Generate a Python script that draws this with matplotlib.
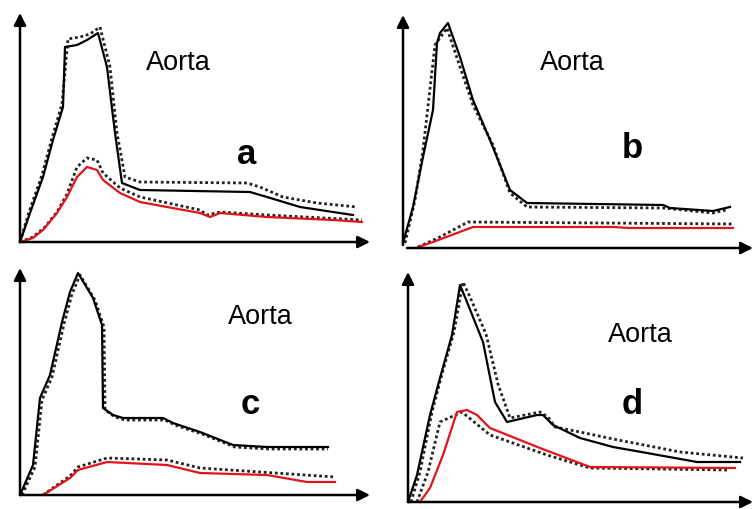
import matplotlib.pyplot as plt

plt.rcParams['font.family'] = ['Liberation Sans', 'DejaVu Sans']

W, H = 753, 509

# panel a  (x, height above the x axis, in px of the original figure)
a_solid_x = [0, 10, 23, 33, 43, 45, 57, 67, 78, 87, 95, 102, 120, 230, 247, 280, 313, 333]
a_solid_y = [0, 29, 65, 102, 135, 195, 197, 202, 209, 175, 109, 59, 52, 50, 45, 35, 30, 27]
a_dot_x = [0, 9, 22, 32, 42, 48, 60, 70, 80, 90, 97, 105, 120, 227, 240, 263, 297, 337]
a_dot_y = [0, 30, 67, 104, 138, 203, 205, 208, 215, 175, 109, 65, 60, 59, 55, 45, 39, 35]
a_red_x = [0, 13, 23, 37, 47, 57, 67, 77, 83, 100, 120, 147, 180, 190, 200, 247, 313, 342]
a_red_y = [0, 4, 12, 29, 45, 65, 75, 72, 62, 49, 40, 35, 29, 25, 29, 25, 22, 20]
a_rdot_x = [0, 13, 25, 37, 47, 57, 67, 77, 83, 100, 120, 180, 187, 200, 247, 342]
a_rdot_y = [0, 5, 15, 30, 48, 75, 84, 82, 69, 54, 45, 32, 27, 30, 27, 22]

# panel b
b_solid_x = [0, 10, 20, 30, 34, 37, 45, 57, 70, 87, 107, 124, 260, 267, 310, 327]
b_solid_y = [2, 38, 88, 135, 202, 212, 222, 188, 145, 105, 55, 42, 40, 37, 34, 38]
b_dot_x = [2, 12, 20, 32, 44, 57, 70, 90, 107, 124, 260, 310, 323]
b_dot_y = [2, 45, 95, 200, 217, 178, 140, 100, 52, 38, 37, 32, 35]
b_red_x = [15, 30, 54, 70, 210, 227, 330]
b_red_y = [-2, 3, 12, 18, 18, 17, 17]
b_rdot_x = [15, 35, 65, 330]
b_rdot_y = [-2, 7, 23, 21]

# panel c
c_solid_x = [0, 13, 20, 30, 42, 50, 58, 67, 73, 82, 83, 93, 103, 143, 153, 180, 213, 247, 308]
c_solid_y = [0, 30, 97, 120, 173, 203, 222, 207, 197, 170, 87, 80, 77, 77, 72, 63, 50, 48, 48]
c_dot_x = [2, 15, 22, 32, 44, 52, 60, 69, 75, 84, 85, 95, 105, 145, 155, 182, 215, 249, 308]
c_dot_y = [0, 28, 95, 118, 171, 201, 220, 205, 195, 168, 85, 78, 75, 75, 70, 61, 48, 46, 46]
c_red_x = [23, 50, 58, 87, 147, 180, 247, 287, 315]
c_red_y = [0, 17, 25, 33, 30, 22, 20, 13, 13]
c_rdot_x = [23, 50, 58, 87, 147, 180, 315]
c_rdot_y = [0, 19, 28, 37, 35, 27, 18]

# panel d
d_solid_x = [0, 9, 22, 32, 44, 52, 59, 75, 87, 99, 129, 135, 145, 172, 205, 239, 289, 332]
d_solid_y = [0, 27, 87, 124, 167, 217, 200, 160, 100, 80, 87, 87, 77, 64, 55, 49, 40, 40]
d_dot_x = [3, 12, 24, 34, 46, 55, 62, 78, 90, 102, 132, 140, 147, 172, 205, 272, 335]
d_dot_y = [0, 30, 90, 128, 170, 220, 205, 168, 118, 84, 90, 85, 75, 70, 63, 50, 44]
d_red_x = [12, 22, 35, 49, 59, 69, 82, 132, 182, 327]
d_red_y = [0, 14, 47, 90, 92, 87, 74, 54, 35, 34]
d_rdot_x = [9, 20, 32, 54, 82, 139, 182, 320]
d_rdot_y = [0, 30, 80, 90, 67, 47, 34, 32]

panels = [
    dict(origin=(20, 242), ytop=229, xend=350, xaxis_y=0, xaxis_x0=0,
         solid=(a_solid_x, a_solid_y), dot=(a_dot_x, a_dot_y),
         red=(a_red_x, a_red_y), rdot=(a_rdot_x, a_rdot_y),
         label='a', aorta=(158, 179), letter=(227, 88)),
    dict(origin=(403, 245), ytop=230, xend=350, xaxis_y=-3, xaxis_x0=4,
         solid=(b_solid_x, b_solid_y), dot=(b_dot_x, b_dot_y),
         red=(b_red_x, b_red_y), rdot=(b_rdot_x, b_rdot_y),
         label='b', aorta=(169, 182), letter=(229, 96)),
    dict(origin=(20, 495), ytop=227, xend=350, xaxis_y=0, xaxis_x0=0,
         solid=(c_solid_x, c_solid_y), dot=(c_dot_x, c_dot_y),
         red=(c_red_x, c_red_y), rdot=(c_rdot_x, c_rdot_y),
         label='c', aorta=(240, 178), letter=(230, 91)),
    dict(origin=(408, 502), ytop=230, xend=345, xaxis_y=0, xaxis_x0=0,
         solid=(d_solid_x, d_solid_y), dot=(d_dot_x, d_dot_y),
         red=(d_red_x, d_red_y), rdot=(d_rdot_x, d_rdot_y),
         label='d', aorta=(232, 167), letter=(224, 98)),
]

fig = plt.figure(figsize=(W / 100, H / 100), dpi=100)
fig.patch.set_facecolor('white')

PW, PH = 360, 245
for p in panels:
    ox, oy = p['origin']
    ax = fig.add_axes([ox / W, (H - oy - 5) / H, PW / W, PH / H])
    ax.set_xlim(0, PW)
    ax.set_ylim(-5, PH - 5)
    ax.axis('off')

    # axis arrows
    arrow = dict(arrowstyle='-|>', lw=1.8, color='black', mutation_scale=18,
                 shrinkA=0, shrinkB=0)
    ax.annotate('', xy=(0, p['ytop']), xytext=(0, 0), arrowprops=arrow,
                annotation_clip=False)
    ax.annotate('', xy=(p['xend'], p['xaxis_y']), xytext=(p['xaxis_x0'], p['xaxis_y']),
                arrowprops=arrow, annotation_clip=False)

    ax.plot(*p['dot'], color='#222222', lw=2.0, ls=(0, (1, 1)), clip_on=False)
    ax.plot(*p['rdot'], color='#222222', lw=2.0, ls=(0, (1, 1)), clip_on=False)
    ax.plot(*p['solid'], color='black', lw=1.6, clip_on=False)
    ax.plot(*p['red'], color='#e3131b', lw=1.6, clip_on=False)

    ax.text(*p['aorta'], 'Aorta', fontsize=19.5, ha='center', va='center')
    ax.text(*p['letter'], p['label'], fontsize=25, fontweight='bold',
            ha='center', va='center')

fig.savefig('out.png', dpi=100, facecolor='white')
